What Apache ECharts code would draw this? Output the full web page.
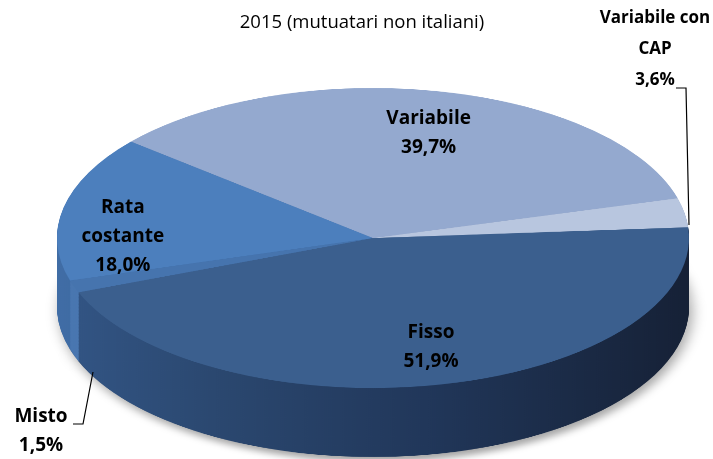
<!DOCTYPE html>
<html>
<head>
<meta charset="utf-8">
<script src="https://cdn.jsdelivr.net/npm/echarts@6/dist/echarts.min.js"></script>
<style>
html, body { margin: 0; padding: 0; background: #ffffff; overflow: hidden; width: 713px; height: 459px; }
#pie { position: absolute; left: 0; top: 0; width: 713px; height: 967px; transform-origin: 0 0; }
#lab { position: absolute; left: 0; top: 0; width: 713px; height: 459px; }
</style>
</head>
<body>
<div id="pie"></div>
<div id="lab"></div>
<script>
// ---- data ----
const chartTitle = '2015 (mutuatari non italiani)';
const categories = ['Variabile', 'Variabile con CAP', 'Fisso', 'Misto', 'Rata costante'];
const labelNames = ['Variabile', 'Variabile con\nCAP', 'Fisso', 'Misto', 'Rata\ncostante'];
const values = [39.7, 3.6, 51.9, 1.5, 18.0];

// ---- style ----
const topColors = ['#94a9cf', '#b8c6df', '#3b5f8e', '#4674ae', '#4c7fbd'];
function hgrad(stops) {
  return { type: 'linear', x: 0, y: 0, x2: 713, y2: 0, global: true,
    colorStops: stops.map(s => ({ offset: s[0], color: s[1] })) };
}
const wallColors = [
  '#7b8fb5',
  '#7f90ae',
  hgrad([[0, '#365b8e'], [0.3, '#2b4870'], [0.6, '#21375a'], [1, '#151f33']]),
  '#4a77b0',
  hgrad([[0, '#4673ac'], [0.15, '#3c68a0'], [1, '#34598a']])
];

const FONT = '"Open Sans", "Liberation Sans", sans-serif';
const CX = 373, CY = 238, R = 316, RY = 150, DEPTH = 69;
const K = RY / R;                 // tilt: vertical squash of the pie disc
const START = 140;                // ECharts startAngle (first slice starts upper-left)
const fmt = v => v.toFixed(1).replace('.', ',') + '%';

// ---- tilted pie (squashed via CSS) ----
const pieEl = document.getElementById('pie');
pieEl.style.height = Math.ceil(459 / K) + 'px';
pieEl.style.transform = 'scaleY(' + K + ')';

function layer(cyU, colors, shadow) {
  return {
    type: 'pie', center: [CX, cyU], radius: [0, R], startAngle: START, clockwise: true,
    silent: true, animation: false,
    label: { show: false }, labelLine: { show: false }, emphasis: { disabled: true },
    itemStyle: shadow
      ? { borderWidth: 0, shadowBlur: 14, shadowColor: 'rgba(0,0,0,0.35)', shadowOffsetX: 3, shadowOffsetY: 10 }
      : { borderWidth: 0 },
    data: categories.map((c, i) => ({ name: c, value: values[i], itemStyle: { color: colors[i] } }))
  };
}
const cyU = CY / K, depthU = DEPTH / K;
const pieSeries = [];
let first = true;
for (let d = depthU; d > 0; d -= 1.5) {
  pieSeries.push(layer(cyU + d, wallColors, first));
  first = false;
}
pieSeries.push(layer(cyU, topColors, false));

const pieChart = echarts.init(pieEl, null, { renderer: 'canvas' });
pieChart.setOption({ animation: false, backgroundColor: 'transparent', series: pieSeries });

// ---- labels (same pie, invisible, label positions squashed onto the tilted disc) ----
const nudge = { 'Variabile': [6, 3], 'Fisso': [7, 1], 'Rata costante': [-22, 21] };
const labChart = echarts.init(document.getElementById('lab'), null, { renderer: 'canvas' });
labChart.setOption({
  animation: false,
  backgroundColor: 'transparent',
  graphic: [
    { type: 'text', x: 362, y: 23, silent: true,
      style: { text: chartTitle, align: 'center', verticalAlign: 'middle', font: '18.5px ' + FONT, fill: '#000' } },
    { type: 'text', x: 655, y: 49, silent: true,
      style: { text: labelNames[1] + '\n' + fmt(values[1]), align: 'center', verticalAlign: 'middle',
               font: 'bold 17px ' + FONT, lineHeight: 31, fill: '#000' } },
    { type: 'polyline', silent: true, shape: { points: [[676, 88], [686, 88], [689, 225]] },
      style: { stroke: '#000', lineWidth: 1.2, fill: null } },
    { type: 'text', x: 41, y: 431, silent: true,
      style: { text: labelNames[3] + '\n' + fmt(values[3]), align: 'center', verticalAlign: 'middle',
               font: 'bold 19px ' + FONT, lineHeight: 29, fill: '#000' } },
    { type: 'polyline', silent: true, shape: { points: [[73, 424], [83, 424], [93, 372]] },
      style: { stroke: '#000', lineWidth: 1.2, fill: null } }
  ],
  series: [{
    type: 'pie', center: [CX, CY], radius: [0, 460], startAngle: START, clockwise: true,
    silent: true, animation: false,
    itemStyle: { color: 'rgba(0,0,0,0)', borderWidth: 0 },
    emphasis: { disabled: true },
    labelLine: { show: false },
    label: {
      show: true, position: 'inside', color: '#000', fontFamily: FONT, fontSize: 19,
      fontWeight: 'bold', lineHeight: 29,
      formatter: p => labelNames[p.dataIndex] + '\n' + fmt(p.value)
    },
    labelLayout: function (p) {
      const r = p.labelRect;
      const name = categories[p.dataIndex];
      const n = nudge[name] || [0, 0];
      const x = r.x + r.width / 2, y = r.y + r.height / 2;
      return { x: x + n[0], y: CY + (y - CY) * K + n[1] };
    },
    data: categories.map((c, i) => ({
      name: c, value: values[i],
      label: (i === 1 || i === 3) ? { show: false } : {}
    }))
  }]
});
</script>
</body>
</html>
